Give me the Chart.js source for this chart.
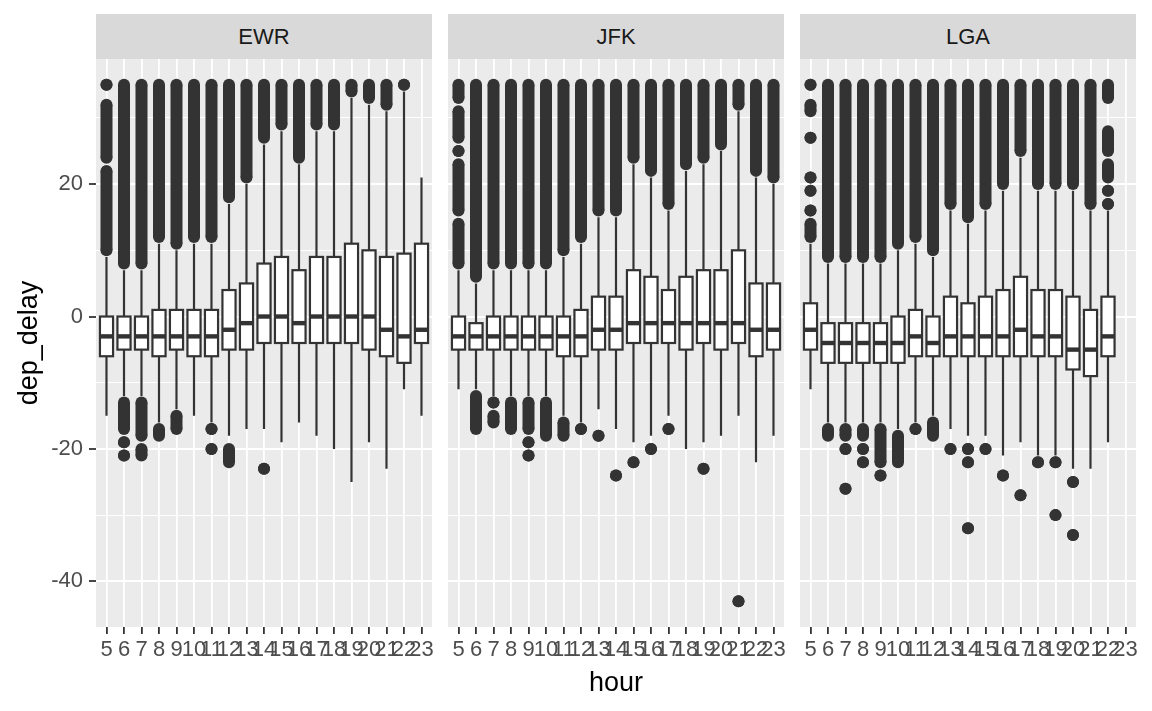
<!DOCTYPE html>
<html>
<head>
<meta charset="utf-8">
<script src="https://cdn.jsdelivr.net/npm/chart.js@4.4.1/dist/chart.umd.min.js"></script>
<style>
  body { margin: 0; width: 1152px; height: 711px; background: #fff; position: relative; overflow: hidden;
         font-family: "Liberation Sans", Arial, sans-serif; }
  canvas { position: absolute; top: 59px; }
  .strip { position: absolute; top: 14px; height: 45px; width: 336px; background: #d9d9d9; color: #1a1a1a;
           font-size: 22px; line-height: 45px; text-align: center; }
  .title { position: absolute; color: #000; font-size: 27px; text-align: center; }
</style>
</head>
<body>
<div class="strip" style="left:96px">EWR</div>
<div class="strip" style="left:448px">JFK</div>
<div class="strip" style="left:800px">LGA</div>
<canvas id="c0" width="452" height="652" style="left:0"></canvas>
<canvas id="c1" width="376" height="652" style="left:428px"></canvas>
<canvas id="c2" width="376" height="652" style="left:780px"></canvas>
<div class="title" style="left:466px;top:664px;width:300px;height:36px;line-height:36px">hour</div>
<div class="title" style="left:-122px;top:325px;width:300px;height:36px;line-height:36px;transform:rotate(-90deg)">dep_delay</div>
<script>
const hours = [5, 6, 7, 8, 9, 10, 11, 12, 13, 14, 15, 16, 17, 18, 19, 20, 21, 22, 23]
const yTicks = [-40, -30, -20, -10, 0, 10, 20, 30]

// box stats per hour: lower whisker, q1, median, q3, upper whisker
const ewrLow  = [-15, -12, -12, -16, -14, -15, -16, -18, -17, -17, -19, -16, -18, -20, -25, -19, -23, -11, -15]
const ewrQ1   = [-6, -5, -5, -6, -5, -6, -6, -5, -5, -4, -4, -4, -4, -4, -4, -5, -6, -7, -4]
const ewrMed  = [-3, -3, -3, -3, -3, -3, -3, -2, -1, 0, 0, -1, 0, 0, 0, 0, -2, -3, -2]
const ewrQ3   = [0, 0, 0, 1, 1, 1, 1, 4, 5, 8, 9, 7, 9, 9, 11, 10, 9, 9.5, 11]
const ewrHigh = [9, 7, 7, 11, 10, 11, 11, 17, 20, 26, 28, 23, 28, 28, 33, 32, 31, 34, 21]

const jfkLow  = [-11, -11, -12, -12, -12, -12, -15, -16, -14, -17, -19, -18, -15, -20, -19, -18, -15, -22, -18]
const jfkQ1   = [-5, -5, -5, -5, -5, -5, -6, -6, -5, -5, -4, -4, -4, -5, -4, -5, -4, -6, -5]
const jfkMed  = [-3, -3, -3, -3, -3, -3, -3, -3, -2, -2, -1, -1, -1, -1, -1, -1, -1, -2, -2]
const jfkQ3   = [0, -1, 0, 0, 0, 0, 0, 1, 3, 3, 7, 6, 4, 6, 7, 7, 10, 5, 5]
const jfkHigh = [7, 5, 7, 7, 7, 7, 9, 11, 15, 15, 23, 21, 16, 22, 23, 25, 31, 21, 20]

const lgaLow  = [-11, -16, -16, -16, -16, -17, -16, -15, -17, -18, -18, -21, -19, -21, -21, -23, -23, -19, null]
const lgaQ1   = [-5, -7, -7, -7, -7, -7, -6, -6, -6, -6, -6, -6, -6, -6, -6, -8, -9, -6, null]
const lgaMed  = [-2, -4, -4, -4, -4, -4, -3, -4, -3, -3, -3, -3, -2, -3, -3, -5, -5, -3, null]
const lgaQ3   = [2, -1, -1, -1, -1, 0, 1, 0, 3, 2, 3, 4, 6, 4, 4, 3, 1, 3, null]
const lgaHigh = [11, 8, 8, 8, 8, 10, 11, 9, 16, 14, 16, 19, 24, 19, 19, 19, 16, 16, null]

// outliers: [hour, from, to] = every delay value from..to is present
const ewrOut = [
  [5, 35, 35], [5, 24, 32], [5, 10, 22],
  [6, 8, 35], [6, -17, -13], [6, -19, -19], [6, -21, -21],
  [7, 8, 35], [7, -18, -13], [7, -21, -20],
  [8, 12, 35], [8, -18, -17],
  [9, 11, 35], [9, -17, -15],
  [10, 12, 35],
  [11, 12, 35], [11, -17, -17], [11, -20, -20],
  [12, 18, 35], [12, -22, -20],
  [13, 21, 35],
  [14, 27, 35], [14, -23, -23],
  [15, 29, 35], [16, 24, 35], [17, 29, 35], [18, 29, 35],
  [19, 34, 35], [20, 33, 35], [21, 32, 35], [22, 35, 35]
]
const jfkOut = [
  [5, 33, 35], [5, 27, 31], [5, 25, 25], [5, 16, 23], [5, 8, 14],
  [6, 6, 35], [6, -17, -12],
  [7, 8, 35], [7, -13, -13], [7, -16, -15],
  [8, 8, 35], [8, -17, -13],
  [9, 8, 35], [9, -17, -13], [9, -19, -19], [9, -21, -21],
  [10, 8, 35], [10, -18, -13],
  [11, 10, 35], [11, -18, -16],
  [12, 12, 35], [12, -17, -17],
  [13, 16, 35], [13, -18, -18],
  [14, 16, 35], [14, -24, -24],
  [15, 24, 35], [15, -22, -22],
  [16, 22, 35], [16, -20, -20],
  [17, 17, 35], [17, -17, -17],
  [18, 23, 35],
  [19, 24, 35], [19, -23, -23],
  [20, 26, 35],
  [21, 32, 35], [21, -43, -43],
  [22, 22, 35],
  [23, 21, 35]
]
const lgaOut = [
  [5, 35, 35], [5, 31, 32], [5, 27, 27], [5, 21, 21], [5, 19, 19], [5, 16, 16], [5, 12, 14],
  [6, 9, 35], [6, -18, -17],
  [7, 9, 35], [7, -18, -17], [7, -20, -20], [7, -26, -26],
  [8, 9, 35], [8, -18, -17], [8, -20, -20], [8, -22, -22],
  [9, 9, 35], [9, -22, -17], [9, -24, -24],
  [10, 11, 35], [10, -22, -18],
  [11, 12, 35], [11, -17, -17],
  [12, 10, 35], [12, -18, -16],
  [13, 17, 35], [13, -20, -20],
  [14, 15, 35], [14, -20, -20], [14, -22, -22], [14, -32, -32],
  [15, 17, 35], [15, -20, -20],
  [16, 20, 35], [16, -24, -24],
  [17, 25, 35], [17, -27, -27],
  [18, 20, 35], [18, -22, -22],
  [19, 20, 35], [19, -22, -22], [19, -30, -30],
  [20, 20, 35], [20, -25, -25], [20, -33, -33],
  [21, 17, 35],
  [22, 33, 35], [22, 25, 28], [22, 21, 23], [22, 19, 19], [22, 17, 17]
]

const font = '"Liberation Sans", Arial, sans-serif'
const ink = '#333333'

const panelBg = {
  id: 'panelBg',
  beforeDraw(chart) {
    const { ctx, chartArea: a } = chart
    ctx.save()
    ctx.fillStyle = '#ebebeb'
    ctx.fillRect(a.left, a.top, a.right - a.left, a.bottom - a.top)
    ctx.restore()
  }
}

// whiskers, boxes and medians
const boxes = (low, q1, med, q3, high) => ({
  id: 'boxes',
  afterDatasetsDraw(chart) {
    const { ctx } = chart
    const x = chart.scales.x, y = chart.scales.y
    ctx.save()
    ctx.strokeStyle = ink
    ctx.fillStyle = '#ffffff'
    hours.forEach((h, i) => {
      if (q1[i] == null) return
      const xc = x.getPixelForValue(h)
      const xl = x.getPixelForValue(h - 0.375)
      const xr = x.getPixelForValue(h + 0.375)
      const yt = y.getPixelForValue(q3[i])
      const yb = y.getPixelForValue(q1[i])
      ctx.lineWidth = 2.2
      ctx.beginPath()
      ctx.moveTo(xc, y.getPixelForValue(high[i])); ctx.lineTo(xc, yt)
      ctx.moveTo(xc, yb); ctx.lineTo(xc, y.getPixelForValue(low[i]))
      ctx.stroke()
      ctx.fillRect(xl, yt, xr - xl, yb - yt)
      ctx.strokeRect(xl, yt, xr - xl, yb - yt)
      const ym = y.getPixelForValue(med[i])
      ctx.lineWidth = 4.4
      ctx.beginPath()
      ctx.moveTo(xl, ym); ctx.lineTo(xr, ym)
      ctx.stroke()
    })
    ctx.restore()
  }
})

const makePanel = (id, showY, out, stats) => {
  const pts = []
  out.forEach(([h, a, b]) => { pts.push({ x: h, y: a }, { x: h, y: b }, { x: h, y: null }) })
  const major = c => c.tick && c.tick.value % 20 === 0
  return new Chart(document.getElementById(id), {
    type: 'line',
    data: {
      datasets: [{
        data: pts,
        borderColor: ink,
        borderWidth: 12,
        borderCapStyle: 'butt',
        pointRadius: 6,
        pointBorderWidth: 0,
        pointBackgroundColor: ink,
        spanGaps: false,
        tension: 0
      }]
    },
    options: {
      responsive: false,
      devicePixelRatio: 1,
      animation: false,
      events: [],
      layout: { autoPadding: false, padding: { left: showY ? 0 : 20, right: 20, top: 0, bottom: 0 } },
      plugins: { legend: { display: false }, tooltip: { enabled: false } },
      scales: {
        x: {
          type: 'linear', min: 4.4, max: 23.6,
          afterBuildTicks: s => { s.ticks = hours.map(v => ({ value: v })) },
          afterFit: s => { s.height = 84; s.paddingLeft = 0; s.paddingRight = 0 },
          border: { display: false },
          grid: { color: '#ffffff', lineWidth: 1.8, tickLength: 7, tickWidth: 1.8, tickColor: ink },
          ticks: { autoSkip: false, maxRotation: 0, minRotation: 0, padding: 3, color: '#4d4d4d',
                   font: { family: font, size: 22 }, callback: v => String(v) }
        },
        y: {
          type: 'linear', min: -46.9, max: 38.9,
          afterBuildTicks: s => { s.ticks = yTicks.map(v => ({ value: v })) },
          afterFit: s => { s.width = showY ? 96 : 0; s.paddingTop = 0; s.paddingBottom = 0 },
          border: { display: false },
          grid: {
            color: '#ffffff',
            lineWidth: c => major(c) ? 2 : 1,
            drawTicks: showY, tickLength: 7, tickWidth: 1.8,
            tickColor: c => major(c) ? ink : 'rgba(0,0,0,0)'
          },
          ticks: { display: showY, padding: 6, color: '#4d4d4d', font: { family: font, size: 22 },
                   callback: v => v % 20 === 0 ? String(v) : '' }
        }
      }
    },
    plugins: [panelBg, boxes(...stats)]
  })
}

makePanel('c0', true, ewrOut, [ewrLow, ewrQ1, ewrMed, ewrQ3, ewrHigh])
makePanel('c1', false, jfkOut, [jfkLow, jfkQ1, jfkMed, jfkQ3, jfkHigh])
makePanel('c2', false, lgaOut, [lgaLow, lgaQ1, lgaMed, lgaQ3, lgaHigh])
</script>
</body>
</html>
